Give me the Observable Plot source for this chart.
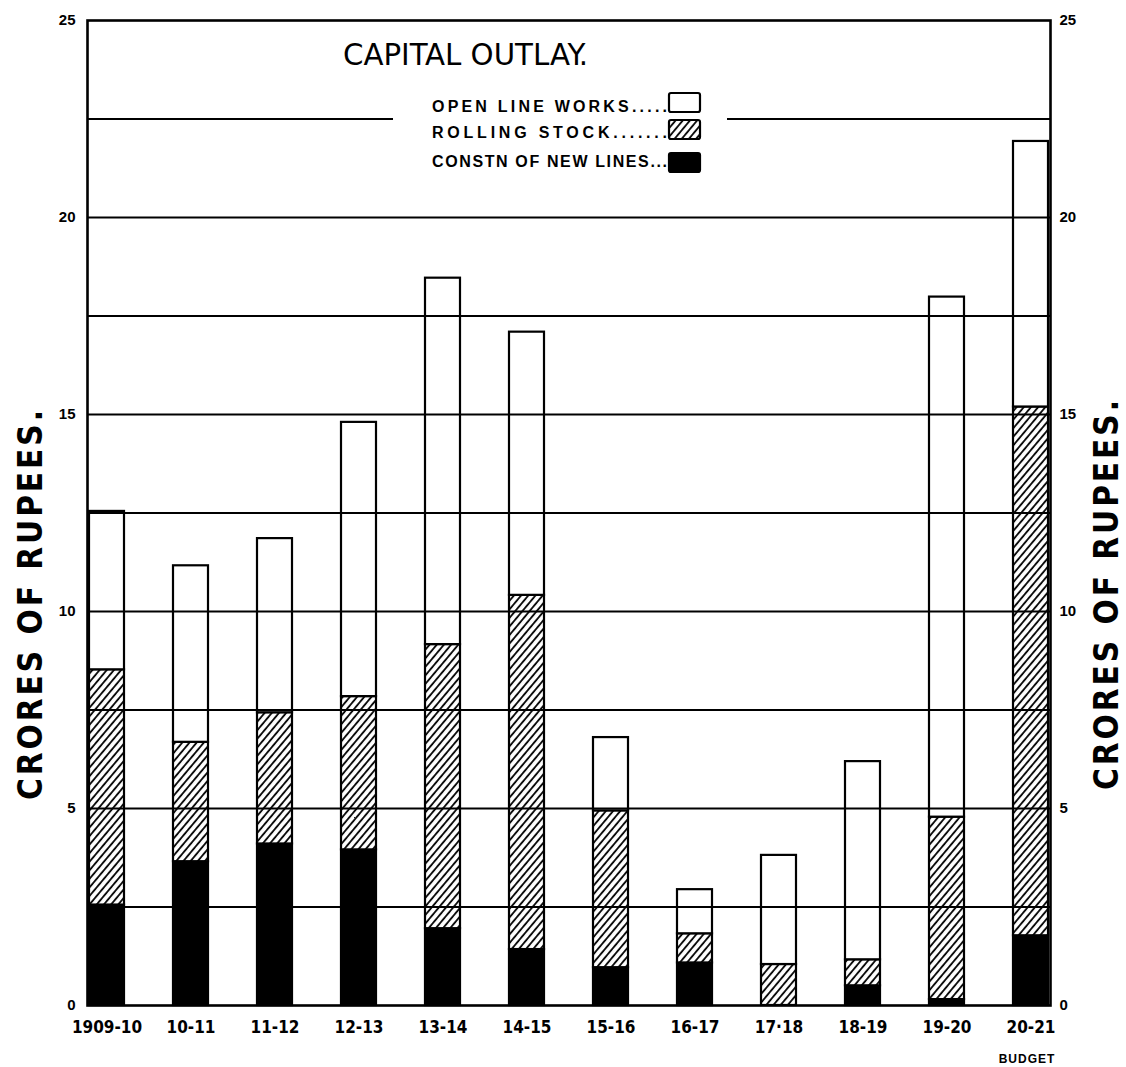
<!DOCTYPE html>
<html><head><meta charset="utf-8">
<script src="https://cdn.jsdelivr.net/npm/d3@7"></script>
<script src="https://cdn.jsdelivr.net/npm/@observablehq/plot@0.6"></script>
<style>
html,body{margin:0;padding:0;background:#fff;}
#chart{position:relative;width:1126px;height:1067px;}
</style></head><body><div id="chart"></div>
<script>
// ---- data (crores of rupees) ----
const years = ["1909-10","10-11","11-12","12-13","13-14","14-15","15-16","16-17","17·18","18-19","19-20","20-21"];
const newLines = [2.55, 3.65, 4.10, 3.95, 1.95, 1.42, 0.96, 1.08, 0.00, 0.50, 0.15, 1.77];
const rollingStock = [5.97, 3.03, 3.33, 3.89, 7.21, 8.99, 3.98, 0.74, 1.04, 0.66, 4.63, 13.42];
const openLineWorks = [4.02, 4.48, 4.42, 6.96, 9.30, 6.68, 1.86, 1.12, 2.77, 5.03, 13.20, 6.74];
const yTicks = [0, 5, 10, 15, 20, 25];
const gridValues = [2.5, 5, 7.5, 10, 12.5, 15, 17.5, 20, 22.5];
const seriesNames = ["CONSTN OF NEW LINES", "ROLLING STOCK", "OPEN LINE WORKS"];
const seriesFills = ["#000", "url(#hatch)", "#fff"];

const rows = years.flatMap((yr, i) => [
  {year: yr, series: seriesNames[0], value: newLines[i]},
  {year: yr, series: seriesNames[1], value: rollingStock[i]},
  {year: yr, series: seriesNames[2], value: openLineWorks[i]}
]);
const fillOf = Object.fromEntries(seriesNames.map((s, i) => [s, seriesFills[i]]));

const chart = Plot.plot({
  width: 1126,
  height: 1067,
  marginLeft: 87,
  marginRight: 76,
  marginTop: 20,
  marginBottom: 62,
  style: {fontFamily: "'Liberation Sans', 'DejaVu Sans', sans-serif", color: "#000", background: "#fff"},
  x: {domain: years, paddingInner: 0.58, paddingOuter: 0, label: null},
  y: {domain: [0, 25], label: null},
  color: {type: "identity"},
  marks: [
    Plot.barY(rows, Plot.stackY({x: "year", y: "value", fill: d => fillOf[d.series], stroke: "#000", strokeWidth: 2.2, order: null})),
    Plot.ruleY(gridValues, {stroke: "#000", strokeWidth: 2}),
    Plot.frame({stroke: "#000", strokeWidth: 2.6}),
    Plot.axisY(yTicks, {anchor: "left", tickSize: 0, tickPadding: 12, label: null, fontSize: 15, fontWeight: "bold"}),
    Plot.axisY(yTicks, {anchor: "right", tickSize: 0, tickPadding: 9, label: null, fontSize: 15, fontWeight: "bold"}),
    Plot.axisX({tickSize: 0, tickPadding: 15, label: null, fontSize: 17, fontWeight: "bold", fontFamily: "'Liberation Sans Narrow', 'DejaVu Sans Condensed', sans-serif"})
  ]
});
document.getElementById("chart").appendChild(chart);

// ---- decorations: pattern, title, legend, axis titles ----
const svg = d3.select(chart);
const defs = svg.insert("defs", ":first-child");
const pat = defs.append("pattern").attr("id", "hatch").attr("patternUnits", "userSpaceOnUse")
  .attr("width", 5.5).attr("height", 5.5).attr("patternTransform", "rotate(40)");
pat.append("rect").attr("width", 5.5).attr("height", 5.5).attr("fill", "#fff");
pat.append("line").attr("x1", 1).attr("y1", 0).attr("x2", 1).attr("y2", 5.5).attr("stroke", "#000").attr("stroke-width", 1.8);

const ys = chart.scale("y");
const yTop = ys.apply(22.5);
// gap in the 22.5 line behind the legend
svg.append("rect").attr("x", 393).attr("y", yTop - 4).attr("width", 334).attr("height", 8).attr("fill", "#fff");

// title
svg.append("text").attr("x", 343).attr("y", 65).attr("text-anchor", "start")
  .attr("font-family", "'DejaVu Sans Condensed', 'DejaVu Sans', sans-serif").attr("font-size", 30)
  .attr("textLength", 245).attr("lengthAdjust", "spacingAndGlyphs")
  .text("CAPITAL OUTLAY.");

// legend
const legendRows = [
  {label: "OPEN LINE WORKS.....", fill: seriesFills[2], ty: 112, by: 93, bh: 19},
  {label: "ROLLING STOCK.......", fill: seriesFills[1], ty: 138, by: 120, bh: 19},
  {label: "CONSTN OF NEW LINES...", fill: seriesFills[0], ty: 167, by: 153, bh: 19}
];
const lg = svg.append("g").attr("font-family", "'Liberation Sans', 'DejaVu Sans', sans-serif")
  .attr("font-weight", "bold").attr("font-size", 16).attr("text-anchor", "start");
legendRows.forEach(r => {
  lg.append("text").attr("x", 432).attr("y", r.ty)
    .attr("textLength", 235).attr("lengthAdjust", "spacing").text(r.label);
  lg.append("rect").attr("x", 669).attr("y", r.by).attr("width", 31).attr("height", r.bh)
    .attr("rx", 2).attr("fill", r.fill).attr("stroke", "#000").attr("stroke-width", 2.2);
});

// axis titles
const ff = "'Liberation Sans Narrow', 'DejaVu Sans Condensed', sans-serif";
svg.append("text").attr("transform", "translate(42,605) rotate(-90)")
  .attr("text-anchor", "middle").attr("font-family", ff).attr("font-weight", "bold")
  .attr("font-size", 33).attr("textLength", 390).attr("lengthAdjust", "spacing")
  .text("CRORES OF RUPEES.");
svg.append("text").attr("transform", "translate(1118,595) rotate(-90)")
  .attr("text-anchor", "middle").attr("font-family", ff).attr("font-weight", "bold")
  .attr("font-size", 33).attr("textLength", 390).attr("lengthAdjust", "spacing")
  .text("CRORES OF RUPEES.");

// budget note under last year
svg.append("text").attr("x", 1027).attr("y", 1063).attr("text-anchor", "middle")
  .attr("font-family", "'Liberation Sans', 'DejaVu Sans', sans-serif").attr("font-weight", "bold")
  .attr("font-size", 12).attr("letter-spacing", 1).text("BUDGET");
</script>
</body></html>
